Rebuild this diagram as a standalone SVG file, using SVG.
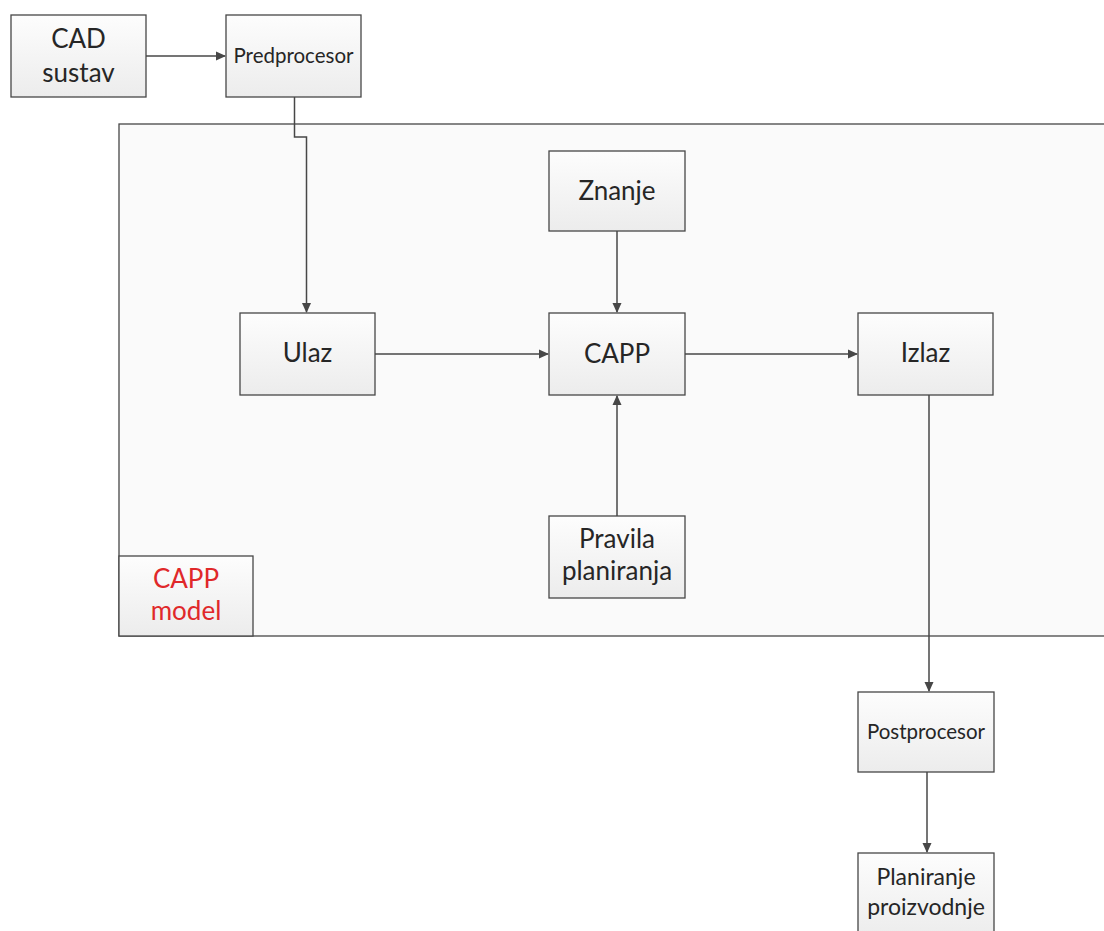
<svg xmlns="http://www.w3.org/2000/svg" width="1104" height="931" viewBox="0 0 1104 931">
<style>
.box{fill:url(#g);stroke:#474747;stroke-width:1.3}
.t{font-family:Lato,"Open Sans",sans-serif;fill:#262626;text-anchor:middle;font-size:26px}
.s{font-size:20.5px}
.m{font-size:23px}
.r{fill:#e0282a}
.c{fill:none;stroke:#474747;stroke-width:1.5}
</style>
<defs>
<linearGradient id="g" x1="0" y1="0" x2="0" y2="1"><stop offset="0" stop-color="#fdfdfd"/><stop offset="1" stop-color="#ececec"/></linearGradient>
<marker id="a" markerWidth="10" markerHeight="10" refX="9" refY="5" orient="auto" markerUnits="userSpaceOnUse"><path d="M0,0.5 L10,5 L0,9.5 z" fill="#474747"/></marker>
</defs>
<rect width="1104" height="931" fill="#fff"/>
<g id="container"><rect x="119" y="124" width="1000" height="512" fill="#fafafa" stroke="#474747" stroke-width="1.3"/></g>
<g id="cad"><rect class="box" x="11" y="15" width="135" height="82"/><text class="t" x="78.5" y="48">CAD</text><text class="t" x="78.5" y="82">sustav</text></g>
<g id="predprocesor"><rect class="box" x="226" y="15" width="135" height="82"/><text class="t s" x="293.5" y="63">Predprocesor</text></g>
<g id="znanje"><rect class="box" x="549" y="151" width="136" height="80"/><text class="t" x="617" y="200">Znanje</text></g>
<g id="ulaz"><rect class="box" x="240" y="313" width="135" height="82"/><text class="t" x="307.5" y="362">Ulaz</text></g>
<g id="capp"><rect class="box" x="549" y="313" width="136" height="82"/><text class="t" x="617" y="363" font-size="31">CAPP</text></g>
<g id="izlaz"><rect class="box" x="858" y="313" width="135" height="82"/><text class="t" x="925.5" y="362">Izlaz</text></g>
<g id="pravila"><rect class="box" x="549" y="516" width="136" height="82"/><text class="t" x="617" y="548">Pravila</text><text class="t" x="617" y="580">planiranja</text></g>
<g id="cappmodel"><rect class="box" x="119" y="556" width="134" height="80"/><text class="t r" x="186" y="588">CAPP</text><text class="t r" x="186" y="620">model</text></g>
<g id="postprocesor"><rect class="box" x="858" y="692" width="136" height="80"/><text class="t s" x="926" y="739">Postprocesor</text></g>
<g id="planiranje"><rect class="box" x="858" y="853" width="136" height="85"/><text class="t m" x="926" y="885">Planiranje</text><text class="t m" x="926" y="915">proizvodnje</text></g>
<g id="connectors">
<path class="c" d="M146,56 H225" marker-end="url(#a)"/>
<path class="c" d="M294.5,97 V137 H306.5 V312" marker-end="url(#a)"/>
<path class="c" d="M617,231 V312" marker-end="url(#a)"/>
<path class="c" d="M375,354 H548" marker-end="url(#a)"/>
<path class="c" d="M685,354 H857" marker-end="url(#a)"/>
<path class="c" d="M617,516 V396" marker-end="url(#a)"/>
<path class="c" d="M929,395 V691" marker-end="url(#a)"/>
<path class="c" d="M927,772 V852" marker-end="url(#a)"/>
</g>
</svg>
